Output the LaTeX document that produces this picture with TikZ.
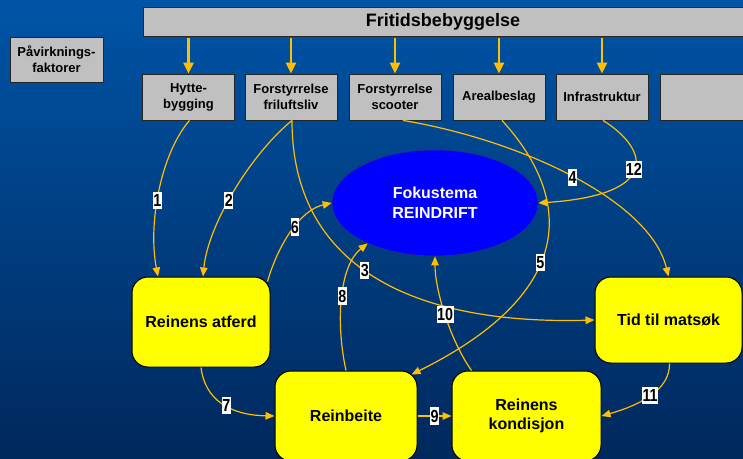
\documentclass[tikz,border=0pt]{standalone}
\usepackage{fontspec}
\setmainfont{Liberation Sans}
\newfontfamily\smalnum[FakeStretch=0.82]{Liberation Sans}
\usetikzlibrary{arrows.meta,shapes.geometric}

\definecolor{bgtop}{RGB}{0,84,166}
\definecolor{bgmid}{RGB}{0,102,200}
\definecolor{bgbot}{RGB}{0,40,92}
\definecolor{boxgray}{RGB}{192,192,192}
\definecolor{gul}{RGB}{255,255,0}
\definecolor{gull}{RGB}{255,190,0}
\definecolor{fokusblaa}{RGB}{0,0,255}

\begin{document}
\begin{tikzpicture}[x=1pt,y=-1pt,
  faktor/.style={draw=black!85,line width=0.8pt,fill=boxgray,minimum width=92pt,minimum height=46pt,
    inner sep=0pt,align=center,font=\fontsize{13}{16}\selectfont\bfseries},
  tilstand/.style={draw=black,line width=1pt,fill=gul,rounded corners=16pt,inner sep=0pt,
    align=center,font=\fontsize{16}{19.5}\selectfont\bfseries},
  pil/.style={draw=gull,line width=1.2pt,-{Triangle[length=9pt,width=7.5pt]}},
  tykkpil/.style={draw=gull,line width=2.6pt,shorten <=2pt,-{Triangle[length=11pt,width=10pt]}},
  num/.style={fill=white,text=black,inner xsep=0.4pt,inner ysep=2.5pt,font=\smalnum\fontsize{17.5}{17.5}\selectfont\bfseries}]

  \useasboundingbox (0,0) rectangle (743,458);
  % The background
  \shade[top color=bgtop,middle color=bgmid,bottom color=bgbot] (0,0) rectangle (743,458);

  % The grey boxes
  \node[faktor,minimum width=600pt,minimum height=29pt,font=\fontsize{18}{18}\selectfont\bfseries] (fritid) at (443,21.5) {Fritidsbebyggelse};
  \node[faktor,minimum width=93pt,minimum height=45pt] (paavirk) at (56.5,59.5) {Påvirknings-\\faktorer};
  \node[faktor] (hyt) at (188.5,97) {Hytte-\\bygging};
  \node[faktor] (fril) at (291,97) {Forstyrrelse\\friluftsliv};
  \node[faktor] (scoot) at (395,97) {Forstyrrelse\\scooter};
  \node[faktor] (areal) at (499,97) {Arealbeslag};
  \node[faktor] (infra) at (602,97) {Infrastruktur};
  \node[faktor] (tom) at (706,97) {};

  % Focus and the yellow boxes
  \node[ellipse,draw={rgb,255:red,40;green,40;blue,150},line width=0.6pt,fill=fokusblaa,minimum width=206pt,minimum height=106pt,
    inner sep=0pt,align=center,text=white,font=\fontsize{16}{20}\selectfont\bfseries] (fokus) at (435,203) {Fokustema\\REINDRIFT};
  \node[tilstand,minimum width=138pt,minimum height=90pt] (atferd) at (201,322) {Reinens atferd};
  \node[tilstand,minimum width=147pt,minimum height=86pt] (matsok) at (668.5,320) {Tid til matsøk};
  \node[tilstand,minimum width=142pt,minimum height=90pt] (beite) at (346,416) {Reinbeite};
  \node[tilstand,minimum width=149pt,minimum height=90pt] (kond) at (526.5,416) {Reinens\\kondisjon};

  % Fritidsbebyggelse gives the factors
  \foreach \f in {hyt,fril,scoot,areal,infra}
    \draw[tykkpil] (\f.north |- fritid.south) -- (\f.north);

  % The numbered effects
  \draw[pil] ([xshift=1pt]hyt.south) .. controls (160,155) and (148,225) .. ([xshift=-43pt]atferd.north) node[num,pos=0.55] {1};
  \draw[pil] ([xshift=1pt]fril.south) .. controls (250,155) and (208,225) .. ([xshift=2pt]atferd.north) node[num,pos=0.55] {2};
  \draw[pil] ([xshift=1pt]fril.south) .. controls (292,265) and (410,325) .. (matsok.west) node[num,pos=0.47] {3};
  \draw[pil] ([xshift=8pt]scoot.south) .. controls (520,140) and (650,200) .. (matsok.north) node[num,pos=0.5] {4};
  \draw[pil] ([xshift=3pt]areal.south) .. controls (570,195) and (582,290) .. ([xshift=-6pt,yshift=-4pt]beite.north east) node[num,pos=0.57] {5};
  \draw[pil] ([xshift=-3pt,yshift=-5pt]atferd.north east) .. controls (278,245) and (300,210) .. (fokus.west) node[num,pos=0.55] {6};
  \draw[pil] (atferd.south) .. controls (205,400) and (230,415) .. (beite.west) node[num,pos=0.55] {7};
  \draw[pil] (beite.north) .. controls (335,320) and (340,265) .. (fokus.211) node[num,pos=0.5] {8};
  \draw[pil] (beite.east) -- (kond.west) node[num,pos=0.5] {9};
  \draw[pil] ([xshift=-55pt]kond.north) .. controls (450,340) and (435,290) .. (fokus.south) node[num,pos=0.5] {10};
  \draw[pil] ([xshift=1pt]matsok.south) .. controls (670,390) and (640,405) .. (kond.east) node[num,pos=0.5] {11};
  \draw[pil] ([xshift=1pt]infra.south) .. controls (650,150) and (660,195) .. (fokus.east) node[num,pos=0.5] {12};
\end{tikzpicture}
\end{document}
